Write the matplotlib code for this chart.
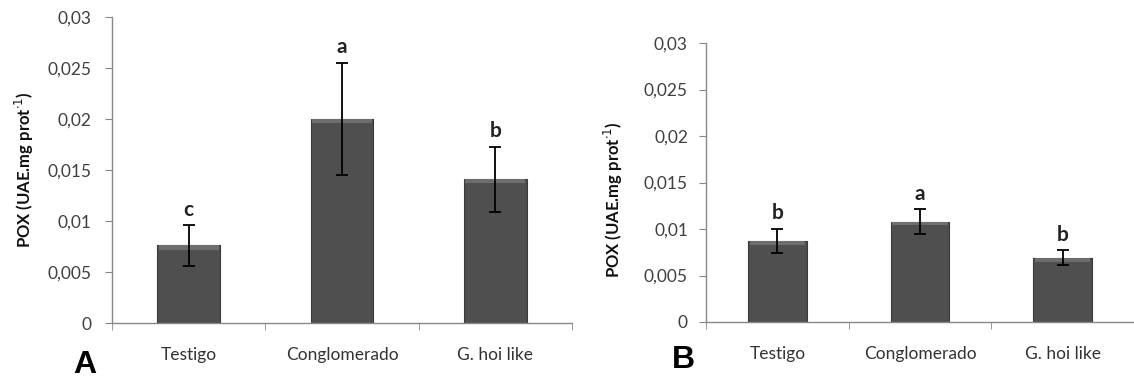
import matplotlib
matplotlib.use('Agg')
import matplotlib.pyplot as plt
from matplotlib.ticker import FixedLocator, FuncFormatter

# data
categories = ['Testigo', 'Conglomerado', 'G. hoi like']
pox_A = [0.0076, 0.0200, 0.0141]
err_A = [0.0020, 0.0055, 0.0032]
letters_A = ['c', 'a', 'b']
pox_B = [0.0087, 0.0108, 0.0069]
err_B = [0.0013, 0.0013, 0.0008]
letters_B = ['b', 'a', 'b']
yticks = [0, 0.005, 0.01, 0.015, 0.02, 0.025, 0.03]

plt.rcParams['font.family'] = ['Lato', 'DejaVu Sans']

fig = plt.figure(figsize=(11.34, 3.78), dpi=100)
axA = fig.add_axes([112/1134, 1 - 323/378, 460/1134, 306/378])
axB = fig.add_axes([706/1134, 1 - 322/378, 428/1134, 279/378])


def comma(v, pos):
    if v == 0:
        return '0'
    return ('%g' % v).replace('.', ',')


def draw(ax, vals, errs, letters, label_x, label_y, ypad):
    x = range(len(categories))
    ax.bar(x, vals, width=0.41, color='#4f4f4f', edgecolor='#3a3a3a',
           linewidth=0.8, zorder=2)
    # light top bevel like the spreadsheet bars
    ax.bar(x, [0.0004] * 3, bottom=[v - 0.0004 for v in vals], width=0.39,
           color='#6e6e6e', linewidth=0, zorder=2.5)
    ax.errorbar(x, vals, yerr=errs, fmt='none', ecolor='black',
                elinewidth=1.3, capsize=4, capthick=1.3, zorder=3)
    for xi, v, e, l in zip(x, vals, errs, letters):
        ax.annotate(l, (xi, v + e), xytext=(0, 4), textcoords='offset points',
                    ha='center', va='bottom', fontsize=15, fontweight='bold',
                    color='#222222')
    ax.set_xlim(-0.5, 2.5)
    ax.set_ylim(0, 0.03)
    ax.set_yticks(yticks)
    ax.yaxis.set_major_formatter(FuncFormatter(comma))
    ax.set_xticks(list(x))
    ax.set_xticklabels(categories)
    ax.xaxis.set_minor_locator(FixedLocator([-0.5, 0.5, 1.5, 2.5]))
    ax.tick_params(axis='x', which='major', length=0, pad=17,
                   labelsize=12.5, labelcolor='#333333')
    ax.tick_params(axis='x', which='minor', length=5, color='#888888',
                   direction='out')
    ax.tick_params(axis='y', length=5, color='#888888', pad=ypad,
                   labelsize=12.5, labelcolor='#404040')
    for s in ['top', 'right']:
        ax.spines[s].set_visible(False)
    for s in ['left', 'bottom']:
        ax.spines[s].set_color('#888888')
        ax.spines[s].set_linewidth(1.0)
    ax.set_ylabel('POX (UAE.mg prot$^{\\cdot 1}$)', fontsize=12,
                  fontweight='bold', color='#111111')
    ax.yaxis.set_label_coords(label_x, label_y)


draw(axA, pox_A, err_A, letters_A, -0.165, 0.50, 10)
draw(axB, pox_B, err_B, letters_B, -0.19, 0.44, 8)

fig.text(73/1134, 1 - 373/378, 'A', fontsize=23, fontweight='bold',
         family='Liberation Sans', ha='left', va='baseline')
fig.text(672/1134, 1 - 368/378, 'B', fontsize=23, fontweight='bold',
         family='Liberation Sans', ha='left', va='baseline')

fig.savefig('out.png', dpi=100)
